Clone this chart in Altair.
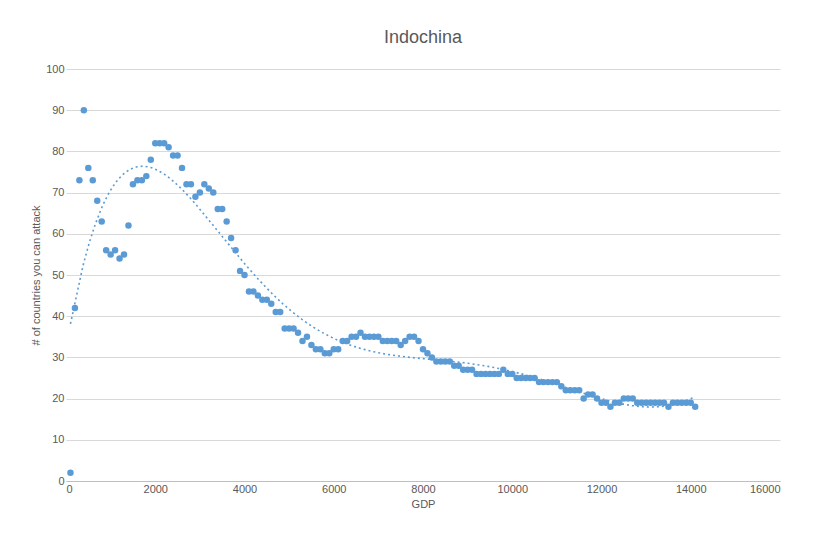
import altair as alt
import pandas as pd

gdp = list(range(100, 14200, 100))
countries = [2, 42, 73, 90, 76, 73, 68, 63, 56, 55,
             56, 54, 55, 62, 72, 73, 73, 74, 78, 82,
             82, 82, 81, 79, 79, 76, 72, 72, 69, 70,
             72, 71, 70, 66, 66, 63, 59, 56, 51, 50,
             46, 46, 45, 44, 44, 43, 41, 41, 37, 37,
             37, 36, 34, 35, 33, 32, 32, 31, 31, 32,
             32, 34, 34, 35, 35, 36, 35, 35, 35, 35,
             34, 34, 34, 34, 33, 34, 35, 35, 34, 32,
             31, 30, 29, 29, 29, 29, 28, 28, 27, 27,
             27, 26, 26, 26, 26, 26, 26, 27, 26, 26,
             25, 25, 25, 25, 25, 24, 24, 24, 24, 24,
             23, 22, 22, 22, 22, 20, 21, 21, 20, 19,
             19, 18, 19, 19, 20, 20, 20, 19, 19, 19,
             19, 19, 19, 19, 18, 19, 19, 19, 19, 19,
             18]

df = pd.DataFrame({"GDP": gdp, "N": countries})
color = "#5b9bd5"

x = alt.X("GDP:Q", title="GDP", scale=alt.Scale(domain=[0, 16000], nice=False),
          axis=alt.Axis(values=list(range(0, 16001, 2000)), grid=False, format="d"))
y = alt.Y("N:Q", title="# of countries you can attack",
          scale=alt.Scale(domain=[0, 100], nice=False),
          axis=alt.Axis(values=list(range(0, 101, 10)), gridColor="#d9d9d9",
                        domain=False, ticks=False))

pts = alt.Chart(df).mark_circle(size=42, opacity=1, color=color).encode(x=x, y=y)
trend = alt.Chart(df).transform_regression("GDP", "N", method="poly", order=6).mark_line(
    color=color, strokeDash=[2, 3], strokeWidth=1.6).encode(x=x, y=y)

chart = (pts + trend).properties(
    width=714, height=412,
    padding={"left": 22, "top": 21, "right": 5, "bottom": 5},
    title=alt.TitleParams("Indochina", fontSize=18, font="Liberation Sans",
                          fontWeight="normal", color="#595959", offset=16),
).configure_axis(
    labelFont="Liberation Sans", titleFont="Liberation Sans", labelColor="#595959",
    titleColor="#595959", labelFontSize=11, titleFontSize=11, titleFontWeight="normal",
    domainColor="#bfbfbf", tickColor="#bfbfbf",
).configure_axisX(ticks=False).configure_view(stroke=None)

chart.save("out.html", embed_options={"renderer": "svg", "actions": False})
